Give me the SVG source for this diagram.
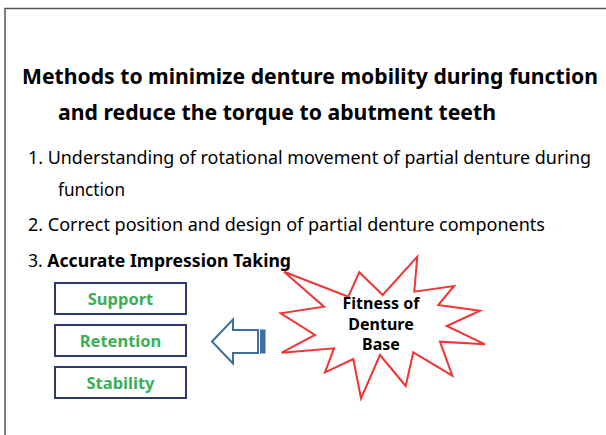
<svg xmlns="http://www.w3.org/2000/svg" width="606" height="435" viewBox="0 0 606 435">
<style>
.t{font-family:"Noto Sans","Open Sans","Liberation Sans",sans-serif;fill:#000}
.title{font-size:22px;font-weight:bold}
.item{font-size:18px}
.b{font-weight:bold}
.box{fill:#fff;stroke:#2E3A6E;stroke-width:2}
.lbl{font-family:"Noto Sans","Open Sans","Liberation Sans",sans-serif;font-size:16.5px;font-weight:bold;fill:#3BAF55;text-anchor:middle}
.star{fill:#fff;stroke:#F03535;stroke-width:2;stroke-linejoin:miter}
.arrow{fill:#fff;stroke:#3F6F9C;stroke-width:2;stroke-linejoin:miter}
</style>
<rect width="606" height="435" fill="#fff"/>
<path d="M5,435 V8.5 H606" fill="none" stroke="#555" stroke-width="1.5"/>
<g id="title">
<text class="t title" x="22" y="84" font-size="20.5" textLength="576" lengthAdjust="spacingAndGlyphs" style="font-size:20.5px">Methods to minimize denture mobility during function</text>
<text class="t title" x="58" y="120" textLength="438" lengthAdjust="spacingAndGlyphs">and reduce the torque to abutment teeth</text>
</g>
<g id="list">
<text class="t item" x="28" y="164" textLength="563" lengthAdjust="spacingAndGlyphs">1. Understanding of rotational movement of partial denture during</text>
<text class="t item" x="58" y="196" textLength="67" lengthAdjust="spacingAndGlyphs">function</text>
<text class="t item" x="28" y="231" textLength="517" lengthAdjust="spacingAndGlyphs">2. Correct position and design of partial denture components</text>
<text class="t item" x="28" y="267" textLength="263" lengthAdjust="spacingAndGlyphs">3. <tspan class="b">Accurate Impression Taking</tspan></text>
</g>
<g id="support"><rect class="box" x="55" y="283" width="131" height="31"/><text class="lbl" x="120.5" y="304.5">Support</text></g>
<g id="retention"><rect class="box" x="55" y="325" width="131" height="31"/><text class="lbl" x="120.5" y="346.5">Retention</text></g>
<g id="stability"><rect class="box" x="55" y="367" width="131" height="31"/><text class="lbl" x="120.5" y="388.5">Stability</text></g>
<g id="connectors">
<path class="arrow" d="M212,341.5 L233,319.5 V330 H258 V353 H233 V363.5 Z"/>
<rect x="260.5" y="330" width="4.5" height="23" fill="#3F6F9C" stroke="#3F6F9C" stroke-width="1"/>
</g>
<g id="fitness">
<polygon class="star" points="284,271.7 348.3,296.7 359.3,272.3 382.7,295 417.3,256.7 414.3,291.7 454,286 438.3,305 480,310.7 446.7,326 485,344.3 440,341.7 452.3,375.7 413.3,352.3 405.7,386 380,355 361,398.3 353.3,359 325,372.3 334,348.3 281.7,352.7 315,335 280.7,313.3 324,306.7"/>
<text class="t b" font-size="16" text-anchor="middle" x="381" y="309">Fitness of</text>
<text class="t b" font-size="16" text-anchor="middle" x="381" y="330">Denture</text>
<text class="t b" font-size="16" text-anchor="middle" x="381" y="350">Base</text>
</g>
</svg>
